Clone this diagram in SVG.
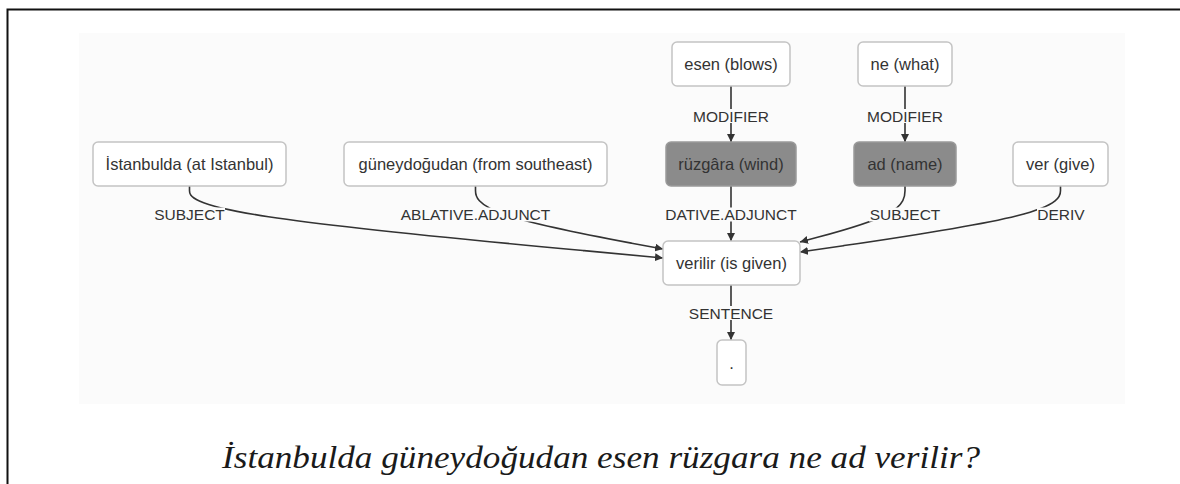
<svg xmlns="http://www.w3.org/2000/svg" width="1180" height="484" viewBox="0 0 1180 484">
  <defs>
    <marker id="arrow" viewBox="0 0 10 10" refX="10" refY="5" markerWidth="8" markerHeight="8" markerUnits="userSpaceOnUse" orient="auto">
      <path d="M0,0 L10,5 L0,10 z" fill="#333"/>
    </marker>
    <style>
      .node rect { fill: #ffffff; stroke: #c4c4c4; stroke-width: 1.5; }
      .node.dark rect { fill: #8b8b8b; stroke: #9a9a9a; }
      .node text { font-family: "Liberation Sans", Arial, sans-serif; font-size: 16.5px; fill: #333; text-anchor: middle; }
      .edge { fill: none; stroke: #333; stroke-width: 1.6; marker-end: url(#arrow); }
      .lbl rect { fill: #fbfbfb; stroke: none; }
      .lbl text { font-family: "Liberation Sans", Arial, sans-serif; font-size: 15.5px; fill: #333; text-anchor: middle; }
      .frame { stroke: #111; stroke-width: 2; fill: none; }
      .caption { font-family: "Liberation Serif", "Times New Roman", serif; font-style: italic; font-size: 32px; fill: #1a1a1a; }
    </style>
  </defs>

  <rect x="0" y="0" width="1180" height="484" fill="#ffffff"/>
  <!-- page frame -->
  <path class="frame" d="M7.5,484 L7.5,9.5 L1180,9.5"/>
  <!-- graph canvas -->
  <rect x="79" y="33" width="1046" height="371" fill="#fbfbfb"/>

  <!-- connectors -->
  <g id="edges">
    <line class="edge" x1="731" y1="86" x2="731" y2="142"/>
    <line class="edge" x1="905" y1="86" x2="905" y2="142"/>
    <line class="edge" x1="731" y1="186" x2="731" y2="241"/>
    <line class="edge" x1="731" y1="285" x2="731" y2="340"/>
    <path class="edge" d="M189.5,186 L189.5,190.67 C189.5,195.33 189.5,204.67 268.42,216.67 C347.33,228.67 505.17,243.33 584.08,250.67 L663,258"/>
    <path class="edge" d="M475.5,186 L475.5,190.67 C475.5,195.33 475.5,204.67 506.75,215.17 C538,225.67 600.5,237.33 631.75,243.17 L663,249"/>
    <path class="edge" d="M905,186 L905,190.67 C905,195.33 905,204.67 887.5,214 C870,223.33 835,232.67 817.5,237.33 L800,242"/>
    <path class="edge" d="M1060.5,186 L1060.5,190.67 C1060.5,195.33 1060.5,204.67 1017.08,215.67 C973.67,226.67 886.83,239.33 843.42,245.67 L800,252"/>

    <!-- edge labels -->
    <g class="lbl"><rect x="692" y="109" width="78" height="14"/><text x="731" y="121.5">MODIFIER</text></g>
    <g class="lbl"><rect x="866" y="109" width="78" height="14"/><text x="905" y="121.5">MODIFIER</text></g>
    <g class="lbl"><rect x="154" y="207.5" width="71" height="14"/><text x="189.5" y="220">SUBJECT</text></g>
    <g class="lbl"><rect x="399" y="207.5" width="153" height="14"/><text x="475.5" y="220">ABLATIVE.ADJUNCT</text></g>
    <g class="lbl"><rect x="664" y="207.5" width="134" height="14"/><text x="731" y="220">DATIVE.ADJUNCT</text></g>
    <g class="lbl"><rect x="869" y="207.5" width="72" height="14"/><text x="905" y="220">SUBJECT</text></g>
    <g class="lbl"><rect x="1037" y="207.5" width="49" height="14"/><text x="1061" y="220">DERIV</text></g>
    <g class="lbl"><rect x="690" y="306" width="82" height="14"/><text x="731" y="319">SENTENCE</text></g>
  </g>

  <!-- nodes -->
  <g id="node-esen" class="node"><rect x="672" y="42" width="118" height="44" rx="5"/><text x="731" y="70">esen (blows)</text></g>
  <g id="node-ne" class="node"><rect x="858" y="42" width="94" height="44" rx="5"/><text x="905" y="70">ne (what)</text></g>
  <g id="node-istanbulda" class="node"><rect x="93" y="142" width="193" height="44" rx="5"/><text x="189.5" y="170">İstanbulda (at Istanbul)</text></g>
  <g id="node-guneydogudan" class="node"><rect x="344" y="142" width="263" height="44" rx="5"/><text x="475.5" y="170">güneydoğudan (from southeast)</text></g>
  <g id="node-ruzgara" class="node dark"><rect x="666" y="142" width="130" height="44" rx="5"/><text x="731" y="170">rüzgâra (wind)</text></g>
  <g id="node-ad" class="node dark"><rect x="854" y="142" width="102" height="44" rx="5"/><text x="905" y="170">ad (name)</text></g>
  <g id="node-ver" class="node"><rect x="1013" y="142" width="95" height="44" rx="5"/><text x="1060.5" y="170">ver (give)</text></g>
  <g id="node-verilir" class="node"><rect x="663" y="241" width="137" height="44" rx="5"/><text x="731.5" y="269">verilir (is given)</text></g>
  <g id="node-period" class="node"><rect x="717" y="340" width="29" height="45" rx="5"/><text x="731.5" y="368.5">.</text></g>

  <!-- sentence caption -->
  <text class="caption" x="222" y="468" textLength="758" lengthAdjust="spacingAndGlyphs">İstanbulda güneydoğudan esen rüzgara ne ad verilir?</text>
</svg>
